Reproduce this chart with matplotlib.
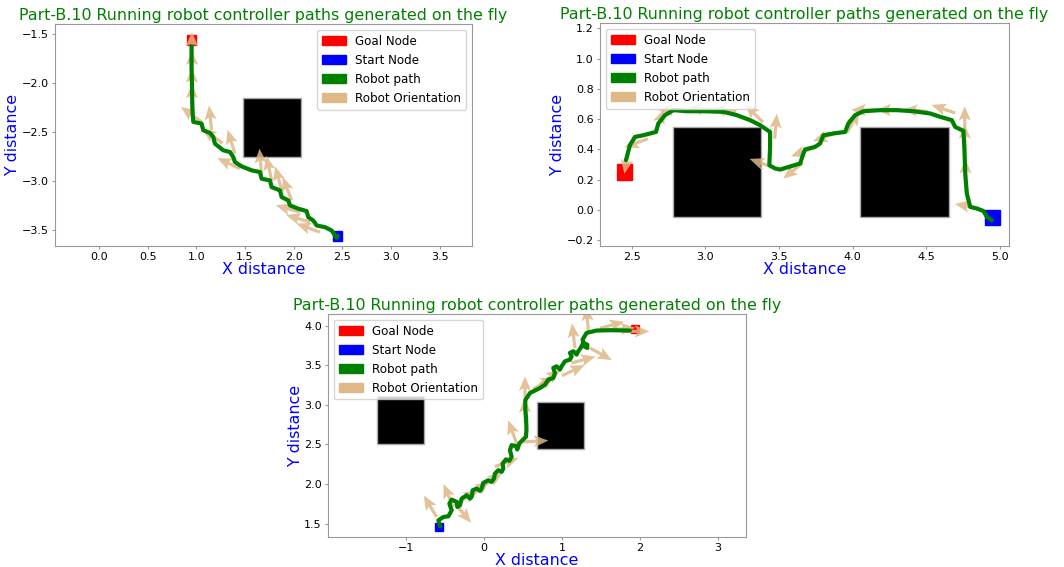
import numpy as np
import matplotlib.pyplot as plt
import matplotlib.patches as mpatches

plot_title = "Part-B.10 Running robot controller paths generated on the fly"

# ---- run 1 (top left) ----
r1_path_x = [2.45, 2.44, 2.423, 2.389, 2.320, 2.235, 2.200, 2.149, 2.132, 2.047, 1.961, 1.944, 1.876,
             1.858, 1.773, 1.756, 1.670, 1.653, 1.567, 1.465, 1.396, 1.379, 1.345, 1.277, 1.191,
             1.174, 1.140, 1.071, 1.054, 0.969, 0.962, 0.958, 0.955, 0.951, 0.951]
r1_path_y = [-3.555, -3.575, -3.552, -3.501, -3.467, -3.450, -3.399, -3.365, -3.303, -3.279, -3.245,
             -3.194, -3.160, -3.092, -3.058, -2.990, -2.973, -2.905, -2.887, -2.847, -2.802, -2.751,
             -2.700, -2.683, -2.615, -2.547, -2.506, -2.478, -2.410, -2.393, -2.300, -2.172, -2.001,
             -1.831, -1.620]
r1_arrow_x = [0.955, 0.955, 0.955, 0.955, 1.05, 1.157, 1.27, 1.396, 1.448, 1.67, 1.773, 1.876, 1.978,
              2.064, 2.166, 2.269]
r1_arrow_y = [-1.73, -1.92, -2.10, -2.26, -2.39, -2.479, -2.61, -2.717, -2.87, -2.92, -2.99, -3.092,
              -3.194, -3.314, -3.416, -3.518]
r1_arrow_deg = [90, 90, 90, 90, 144, 96, 145, 107, 155, 95, 102, 105, 111, 164, 163, 160]
r1_goal = (0.95, -1.555)
r1_start = (2.45, -3.555)
r1_obstacles = [(1.775, -2.45)]
r1_xticks = [0.0, 0.5, 1.0, 1.5, 2.0, 2.5, 3.0, 3.5]
r1_yticks = [-3.5, -3.0, -2.5, -2.0, -1.5]

# ---- run 2 (top right) ----
r2_path_x = [4.944, 4.91, 4.887, 4.842, 4.797, 4.774, 4.763, 4.758, 4.751, 4.695, 4.672, 4.593, 4.525,
             4.412, 4.299, 4.186, 4.072, 4.016, 3.970, 3.948, 3.869, 3.801, 3.778, 3.744, 3.676,
             3.661, 3.643, 3.563, 3.507, 3.473, 3.434, 3.439, 3.439, 3.371, 3.303, 3.213, 3.122,
             2.986, 2.873, 2.783, 2.726, 2.681, 2.665, 2.579, 2.522, 2.488, 2.461]
r2_path_y = [-0.070, -0.048, -0.008, 0.008, 0.019, 0.107, 0.240, 0.394, 0.522, 0.548, 0.593, 0.615,
             0.637, 0.652, 0.659, 0.659, 0.652, 0.626, 0.571, 0.515, 0.505, 0.493, 0.438, 0.416,
             0.399, 0.361, 0.306, 0.283, 0.266, 0.273, 0.295, 0.416, 0.515, 0.560, 0.593, 0.626,
             0.648, 0.652, 0.652, 0.659, 0.626, 0.571, 0.515, 0.493, 0.482, 0.427, 0.328]
r2_arrow_x = [2.48, 2.61, 2.66, 2.85, 3.05, 3.21, 3.39, 3.47, 3.46, 3.66, 3.74, 3.89, 3.96, 4.16, 4.33,
              4.51, 4.695, 4.76, 4.76, 4.765, 4.86]
r2_arrow_y = [0.40, 0.47, 0.51, 0.66, 0.66, 0.65, 0.58, 0.47, 0.28, 0.31, 0.41, 0.51, 0.51, 0.66, 0.66,
              0.65, 0.64, 0.52, 0.40, 0.17, 0.01]
r2_arrow_deg = [-100, 200, 70, 180, 175, 175, 135, 85, 160, 219, 200, 200, 60, 180, 180, 175, 161,
                90, 90, 90, 170]
r2_goal = (2.45, 0.25)
r2_start = (4.95, -0.05)
r2_obstacles = [(3.08, 0.25), (4.35, 0.25)]
r2_xticks = [2.5, 3.0, 3.5, 4.0, 4.5, 5.0]
r2_yticks = [-0.2, 0.0, 0.2, 0.4, 0.6, 0.8, 1.0, 1.2]

# ---- run 3 (bottom) ----
r3_path_x = [-0.564, -0.585, -0.521, -0.457, -0.414, -0.444, -0.414, -0.350, -0.342, -0.308, -0.286,
             -0.222, -0.180, -0.158, -0.145, -0.094, -0.051, -0.030, -0.009, 0.056, 0.098, 0.128,
             0.141, 0.184, 0.227, 0.248, 0.239, 0.282, 0.325, 0.355, 0.333, 0.355, 0.410, 0.427,
             0.440, 0.453, 0.504, 0.538, 0.545, 0.540, 0.530, 0.530, 0.590, 0.718, 0.782, 0.825,
             0.889, 0.910, 0.889, 0.932, 0.974, 0.996, 1.038, 1.103, 1.124, 1.103, 1.145, 1.188,
             1.209, 1.239, 1.274, 1.325, 1.325, 1.282, 1.265, 1.316, 1.444, 1.615, 1.872]
r3_path_y = [1.465, 1.541, 1.583, 1.592, 1.668, 1.752, 1.803, 1.774, 1.710, 1.731, 1.816, 1.858, 1.816,
             1.837, 1.921, 1.943, 1.913, 1.943, 2.014, 2.048, 2.027, 2.069, 2.133, 2.175, 2.154,
             2.196, 2.259, 2.310, 2.293, 2.344, 2.428, 2.492, 2.479, 2.437, 2.471, 2.513, 2.564,
             2.597, 2.682, 2.834, 2.950, 3.060, 3.151, 3.214, 3.256, 3.320, 3.341, 3.404, 3.468,
             3.489, 3.447, 3.489, 3.552, 3.573, 3.616, 3.658, 3.679, 3.637, 3.679, 3.721, 3.785,
             3.763, 3.721, 3.742, 3.827, 3.911, 3.941, 3.945, 3.941]
r3_arrow_x = [-0.607, -0.394, -0.372, -0.35, -0.18, -0.03, 0.14, 0.42, 0.504, 0.53, 0.526, 0.63, 0.72,
              1.0, 1.12, 1.167, 1.34, 1.36, 1.487, 1.62, 1.80]
r3_arrow_y = [1.583, 1.71, 1.753, 1.76, 1.84, 1.96, 2.22, 2.51, 2.533, 2.77, 3.045, 3.2, 3.26, 3.37,
              3.53, 3.72, 3.93, 3.72, 3.97, 3.95, 3.93]
r3_arrow_deg = [121, 113, -50, 30, 40, 35, 20, 110, 3, 92, 90, 30, 35, 25, 15, 97, 95, -29, 15, 5, 0]
r3_goal = (1.94, 3.96)
r3_start = (-0.58, 1.46)
r3_obstacles = [(-1.07, 2.81), (0.98, 2.74)]
r3_xticks = [-1, 0, 1, 2, 3]
r3_yticks = [1.5, 2.0, 2.5, 3.0, 3.5, 4.0]

node_size = 0.1
obstacle_size = 0.6


def draw_run(ax, px, py, axx, axy, adeg, goal, start, obstacles, xlim, ylim, xticks, yticks, loc):
    for (cx, cy) in obstacles:
        ax.add_patch(mpatches.Rectangle((cx - obstacle_size / 2, cy - obstacle_size / 2),
                                        obstacle_size, obstacle_size, facecolor='black',
                                        edgecolor='#aaaaaa', lw=1, zorder=1))
    ax.add_patch(mpatches.Rectangle((goal[0] - node_size / 2, goal[1] - node_size / 2),
                                    node_size, node_size, color='red', zorder=1))
    ax.add_patch(mpatches.Rectangle((start[0] - node_size / 2, start[1] - node_size / 2),
                                    node_size, node_size, color='blue', zorder=1))
    t = np.radians(adeg)
    ax.quiver(axx, axy, np.cos(t), np.sin(t), units='dots', scale_units='dots', scale=1 / 25.0,
              width=3.2, headwidth=3.8, headlength=4.5, headaxislength=3.8, color='burlywood',
              alpha=0.85, zorder=2)
    ax.plot(px, py, color='green', lw=3, zorder=3, solid_capstyle='round')
    ax.set_xlim(xlim)
    ax.set_ylim(ylim)
    ax.set_xticks(xticks)
    ax.set_yticks(yticks)
    ax.tick_params(labelsize=8, color='#999999', length=2.5, pad=2)
    for s in ax.spines.values():
        s.set_color('#999999')
    ax.set_title(plot_title, color='green', fontsize=11.4, pad=3)
    ax.set_xlabel('X distance', color='blue', fontsize=11.4, labelpad=0)
    ax.set_ylabel('Y distance', color='blue', fontsize=11.4, labelpad=1)
    handles = [mpatches.Patch(color='red', label='Goal Node'),
               mpatches.Patch(color='blue', label='Start Node'),
               mpatches.Patch(color='green', label='Robot path'),
               mpatches.Patch(color='burlywood', label='Robot Orientation')]
    ax.legend(handles=handles, loc=loc, fontsize=8.6)


fig = plt.figure(figsize=(10.64, 5.67), dpi=100)
ax1 = fig.add_axes([0.0517, 0.566, 0.392, 0.3915])
ax2 = fig.add_axes([0.5639, 0.566, 0.3844, 0.3933])
ax3 = fig.add_axes([0.3083, 0.0529, 0.3928, 0.3933])

draw_run(ax1, r1_path_x, r1_path_y, r1_arrow_x, r1_arrow_y, r1_arrow_deg, r1_goal, r1_start,
         r1_obstacles, (-0.45, 3.83), (-3.66, -1.395), r1_xticks, r1_yticks, 'upper right')
draw_run(ax2, r2_path_x, r2_path_y, r2_arrow_x, r2_arrow_y, r2_arrow_deg, r2_goal, r2_start,
         r2_obstacles, (2.285, 5.06), (-0.24, 1.235), r2_xticks, r2_yticks, 'upper left')
draw_run(ax3, r3_path_x, r3_path_y, r3_arrow_x, r3_arrow_y, r3_arrow_deg, r3_goal, r3_start,
         r3_obstacles, (-2.0, 3.36), (1.33, 4.15), r3_xticks, r3_yticks, 'upper left')

fig.savefig('out.png', dpi=100)
